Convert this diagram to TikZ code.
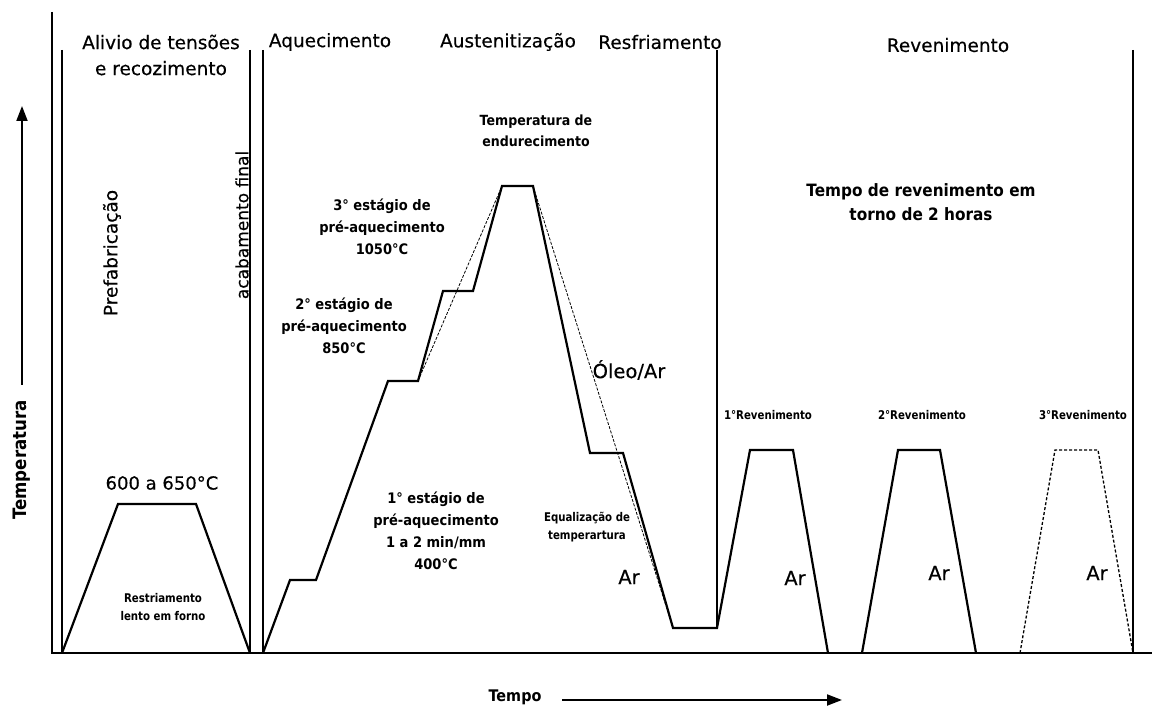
\documentclass[tikz,border=0pt]{standalone}
\usepackage{fontspec}
\usetikzlibrary{arrows.meta}
\setmainfont{DejaVu Sans}
\newfontfamily\medf[FakeBold=0.4]{DejaVu Sans}
\newfontfamily\bcf[FakeStretch=0.9]{DejaVu Sans}
\newfontfamily\scf[FakeStretch=0.85]{DejaVu Sans}
\begin{document}
\begin{tikzpicture}[x=1pt,y=-1pt,
  frame/.style={line width=2.6pt, line join=miter},
  curve/.style={line width=2.2pt, line join=miter},
  guide/.style={line width=0.8pt, dash pattern=on 3pt off 1.5pt},
  dcurve/.style={line width=1.3pt, dash pattern=on 3pt off 2pt},
  hdr/.style={font=\medf\fontsize{18.5}{26}\selectfont, align=center, inner sep=0pt},
  mid/.style={font=\bcf\bfseries\fontsize{14.5}{22}\selectfont, align=center, inner sep=0pt},
  sml/.style={font=\scf\bfseries\fontsize{12}{17.5}\selectfont, align=center, inner sep=0pt},
  lab/.style={font=\medf\fontsize{19.5}{22}\selectfont, inner sep=0pt},
  axarrow/.style={line width=2pt, -{Triangle[length=15pt,width=11pt]}},
]
\useasboundingbox (0,0) rectangle (1152,708);
% frame
\coordinate (yTop) at (52,12);
\coordinate (o) at (52,653);
\coordinate (xEnd) at (1152,653);
\draw[frame] (yTop) -- (o) -- (xEnd);
\coordinate (v1t) at (62,50);   \coordinate (v1b) at (62,653);
\coordinate (v2t) at (250,50);  \coordinate (v2b) at (250,653);
\coordinate (v3t) at (263,50);  \coordinate (v3b) at (263,653);
\coordinate (v4t) at (717,50);  \coordinate (v4b) at (717,628);
\coordinate (v5t) at (1133,50); \coordinate (v5b) at (1133,653);
\draw[frame] (v1t) -- (v1b);
\draw[frame] (v2t) -- (v2b);
\draw[frame] (v3t) -- (v3b);
\draw[frame] (v4t) -- (v4b);
\draw[frame] (v5t) -- (v5b);
% prefab trapezoid
\coordinate (p1) at (62,653); \coordinate (p2) at (118,504);
\coordinate (p3) at (196,504); \coordinate (p4) at (250,653);
\draw[curve] (p1) -- (p2) -- (p3) -- (p4);
% heating, austenitizing, cooling, 1st tempering
\coordinate (h0) at (263,653); \coordinate (h1) at (290,580); \coordinate (h2) at (316,580);
\coordinate (h3) at (388,381); \coordinate (h4) at (418,381); \coordinate (h5) at (443,291);
\coordinate (h6) at (473,291); \coordinate (h7) at (502,186); \coordinate (h8) at (533,186);
\coordinate (c1) at (590,453); \coordinate (c2) at (623,453); \coordinate (c3) at (673,628);
\coordinate (c4) at (717,628);
\coordinate (r1a) at (750,450); \coordinate (r1b) at (793,450); \coordinate (r1c) at (828,653);
\draw[curve] (h0) -- (h1) -- (h2) -- (h3) -- (h4) -- (h5) -- (h6) -- (h7) -- (h8)
  -- (c1) -- (c2) -- (c3) -- (c4) -- (r1a) -- (r1b) -- (r1c);
\draw[guide] (h4) -- (h7);
\draw[guide] (h8) -- (c3);
% 2nd tempering
\coordinate (r2o) at (862,653); \coordinate (r2a) at (898,450);
\coordinate (r2b) at (940,450); \coordinate (r2c) at (976,653);
\draw[curve] (r2o) -- (r2a) -- (r2b) -- (r2c);
% 3rd tempering
\coordinate (r3o) at (1020,653); \coordinate (r3a) at (1055,450);
\coordinate (r3b) at (1098,450); \coordinate (r3c) at (1133,653);
\draw[dcurve] (r3o) -- (r3a) -- (r3b) -- (r3c);
% axis arrows
\coordinate (ta0) at (22,385); \coordinate (ta1) at (22,106);
\draw[axarrow] (ta0) -- (ta1);
\coordinate (tm0) at (562,700); \coordinate (tm1) at (842,700);
\draw[axarrow] (tm0) -- (tm1);
% headers
\node[hdr] (hAlivio) at (161,55) {Alivio de tensões\\e recozimento};
\node[hdr] (hAquec) at (330,42) {Aquecimento};
\node[hdr] (hAust) at (508,42) {Austenitização};
\node[hdr] (hResf) at (660,42) {Resfriamento};
\node[hdr] (hRev) at (948,45) {Revenimento};
\node[hdr, rotate=90] (hPref) at (112,253) {Prefabricação};
\node[font=\medf\fontsize{17}{20}\selectfont, inner sep=0pt, rotate=90] (hAcab) at (242,225) {acabamento final};
\node[font=\bcf\bfseries\fontsize{18.5}{22}\selectfont, inner sep=0pt, rotate=90] (hTemp) at (22,460) {Temperatura};
\node[font=\bcf\bfseries\fontsize{16}{20}\selectfont, inner sep=0pt] (hTempo) at (515,697) {Tempo};
% labels
\node[font=\medf\fontsize{18}{20}\selectfont, inner sep=0pt] (l600) at (162,483) {600 a 650°C};
\node[sml] (lRestr) at (163,607) {Restriamento\\lento em forno};
\node[mid] (lS1) at (436,531) {1° estágio de\\pré-aquecimento\\1 a 2 min/mm\\400°C};
\node[mid] (lS2) at (344,326) {2° estágio de\\pré-aquecimento\\850°C};
\node[mid] (lS3) at (382,227) {3° estágio de\\pré-aquecimento\\1050°C};
\node[mid, font=\bcf\bfseries\fontsize{14}{21}\selectfont] (lEnd) at (536,131) {Temperatura de\\endurecimento};
\node[font=\bcf\bfseries\fontsize{17}{24}\selectfont, align=center, inner sep=0pt] (lTR) at (921,202) {Tempo de revenimento em\\torno de 2 horas};
\node[lab] (lOleo) at (629,370) {Óleo/Ar};
\node[sml] (lEq) at (587,527) {Equalização de\\temperartura};
\node[lab] (lAr0) at (629,577) {Ar};
\node[sml] (lR1) at (768,415) {1°Revenimento};
\node[sml] (lR2) at (922,415) {2°Revenimento};
\node[sml] (lR3) at (1083,415) {3°Revenimento};
\node[lab] (lAr1) at (795,578) {Ar};
\node[lab] (lAr2) at (939,573) {Ar};
\node[lab] (lAr3) at (1097,573) {Ar};
\end{tikzpicture}
\end{document}
